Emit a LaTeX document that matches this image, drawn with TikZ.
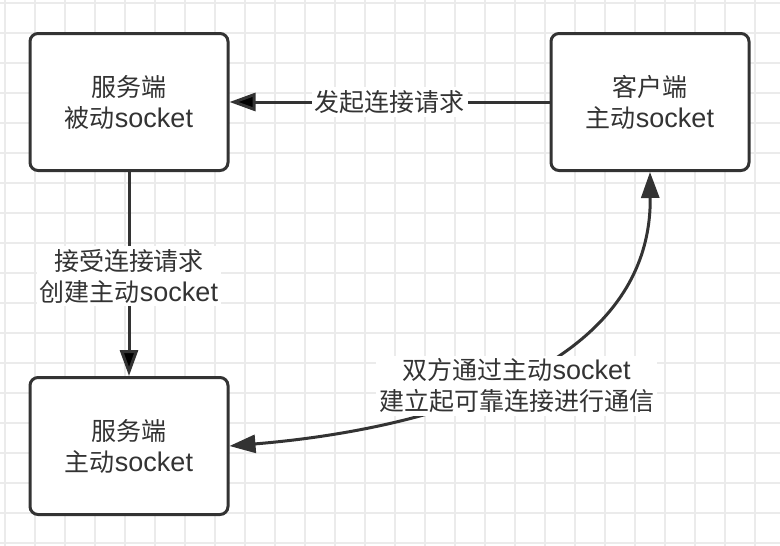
\documentclass[tikz,border=0pt]{standalone}
\usepackage{fontspec}
\setmainfont{Noto Sans CJK SC}
\newfontfamily\lat[Scale=1.08]{Liberation Sans}
\usetikzlibrary{arrows.meta,positioning}

\definecolor{ink}{HTML}{333333}
\definecolor{gridline}{HTML}{EBEBEB}

\tikzset{
  sock/.style={draw=ink, line width=3pt, rounded corners=8pt, fill=white,
    minimum width=198pt, minimum height=137pt, align=center, text=ink,
    font=\fontsize{25}{31}\selectfont},
  lbl/.style={fill=white, text=ink, align=center, inner sep=3pt,
    font=\fontsize{25}{31}\selectfont},
  tip/.tip={Triangle[length=26pt,width=18pt]},
  link/.style={draw=ink, line width=3pt, -tip}
}

\begin{document}
\begin{tikzpicture}[x=1pt,y=-1pt,node distance=521pt,on grid]
  \useasboundingbox (0,0) rectangle (780,546);
  % background grid
  \foreach \x in {5,35,...,755} \draw[gridline,line width=1.5pt] (\x,0) -- (\x,546);
  \foreach \y in {3,33,...,543} \draw[gridline,line width=1.5pt] (0,\y) -- (780,\y);

  \node[sock] (sp) at (129,102) {服务端\\被动{\lat socket}};
  \node[sock] (cs) [right=of sp] {客户端\\主动{\lat socket}};
  \node[sock] (ss) [below=344pt of sp] {服务端\\主动{\lat socket}};

  \path[link]
    (cs) edge node[lbl] {发起连接请求} (sp)
    (sp) edge node[lbl,yshift=-2pt] {接受连接请求\\创建主动{\lat socket}} (ss);

  \draw[link,tip-tip] (ss.east) .. controls +(171,-14) and +(2,208) .. (cs.south)
    node[lbl,pos=0.5,xshift=12pt,yshift=-4pt] {双方通过主动{\lat socket}\\建立起可靠连接进行通信};
\end{tikzpicture}
\end{document}
